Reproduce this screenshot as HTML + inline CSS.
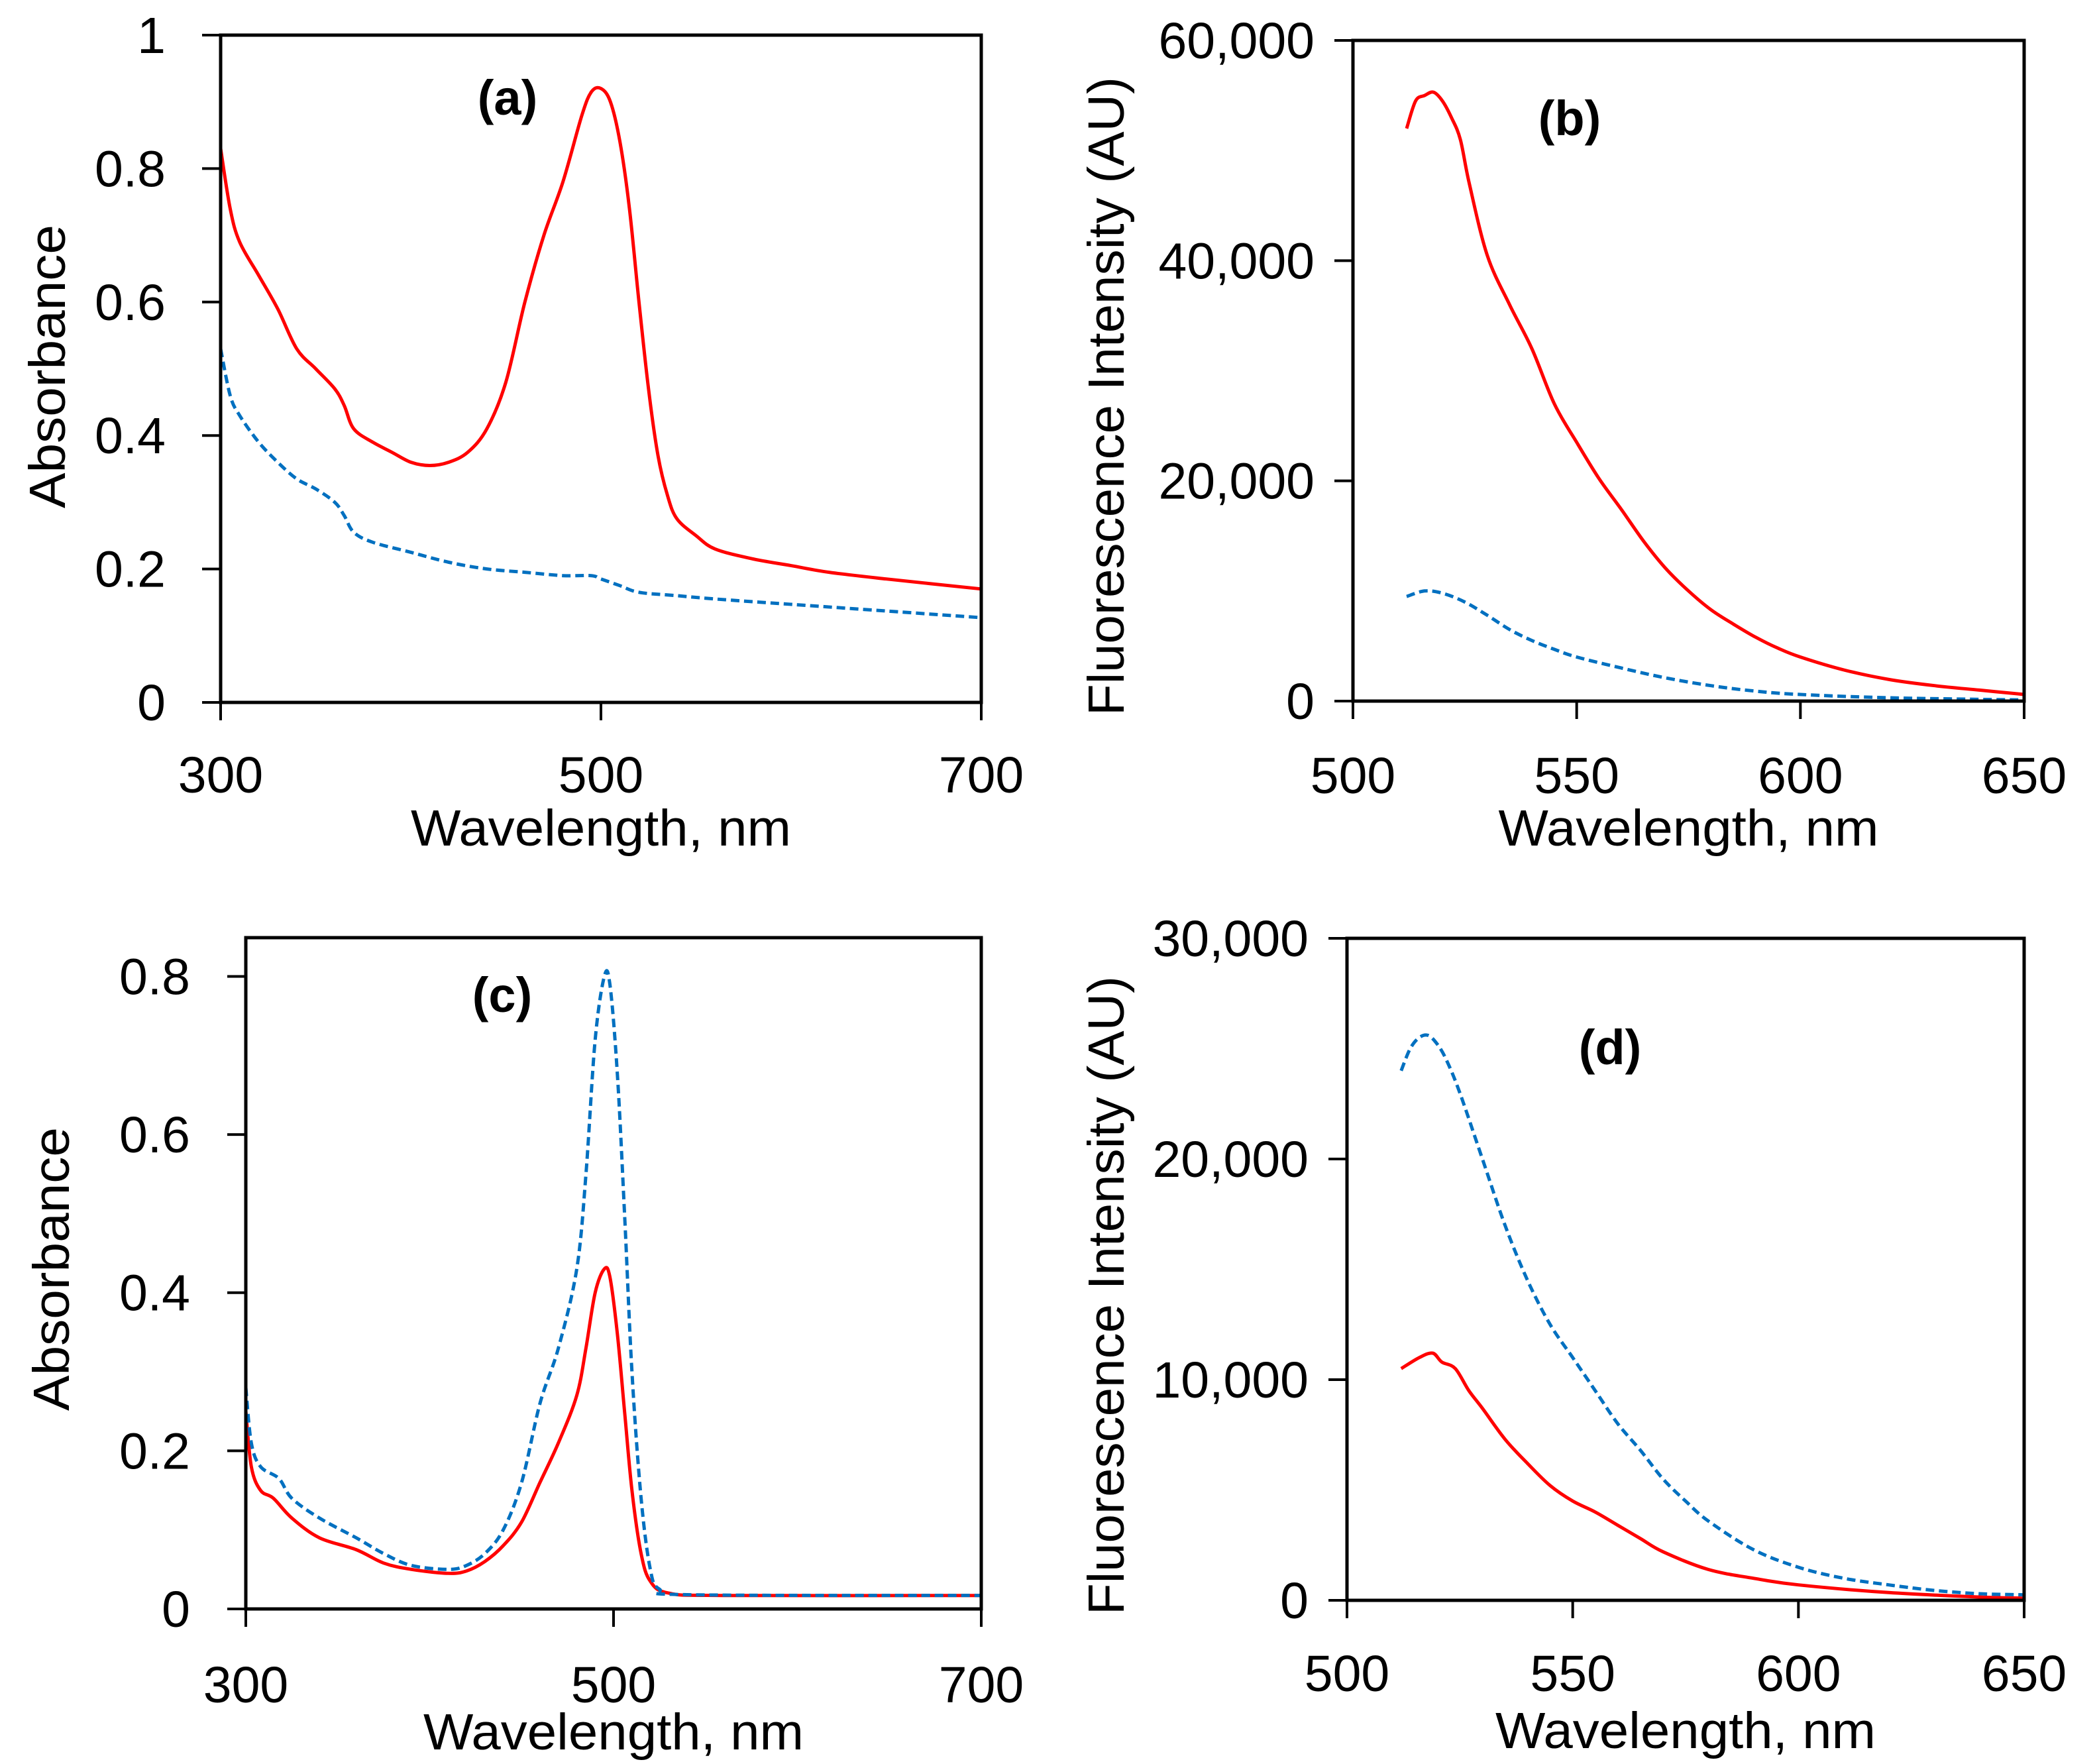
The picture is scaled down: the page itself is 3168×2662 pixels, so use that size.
<!DOCTYPE html>
<html><head><meta charset="utf-8"><style>
html,body{margin:0;padding:0;background:#fff}
svg{display:block}
text{font-family:"Liberation Sans",sans-serif;fill:#000}
</style></head><body>
<svg id="fig" width="3168" height="2662" viewBox="0 0 3168 2662" xmlns="http://www.w3.org/2000/svg"></svg>
<script>
// ---- Data ----
const aRedX=[300,305,310,320,330,340,350,360,365,370,380,390,400,410,420,430,440,450,460,470,480,490,495,500,505,510,515,520,525,530,535,540,550,560,580,600,620,650,700];
const aRedY=[0.83,0.74,0.69,0.64,0.59,0.53,0.5,0.47,0.445,0.41,0.39,0.375,0.36,0.355,0.36,0.375,0.41,0.48,0.6,0.7,0.78,0.88,0.915,0.92,0.9,0.84,0.74,0.6,0.47,0.37,0.31,0.275,0.25,0.23,0.215,0.205,0.195,0.185,0.17];
const aBlueX=[300,305,310,320,330,340,350,360,365,370,380,400,420,440,460,480,495,500,510,520,540,560,600,650,700];
const aBlueY=[0.53,0.46,0.43,0.39,0.36,0.335,0.32,0.3,0.28,0.255,0.24,0.225,0.21,0.2,0.195,0.19,0.19,0.185,0.175,0.165,0.16,0.155,0.147,0.137,0.127];
const bRedX=[512,514,516,518,520,522,524,526,530,535,540,545,550,555,560,565,570,575,580,585,590,595,600,610,620,630,640,650];
const bRedY=[52000,54500,55000,55300,54500,53000,51000,47000,40500,36000,32000,27000,23500,20200,17400,14500,12000,10000,8300,7000,5800,4800,4000,2800,1950,1400,1000,600];
const bBlueX=[512,516,520,525,530,535,540,545,550,560,570,580,590,600,620,650];
const bBlueY=[9500,10000,9800,9000,7800,6500,5500,4700,4000,3000,2100,1400,900,600,300,100];
const cRedX=[300,303,308,315,325,340,360,375,390,410,420,430,440,450,460,470,480,485,490,495,498,502,506,510,515,520,530,560,700];
const cRedY=[0.25,0.18,0.15,0.14,0.115,0.09,0.075,0.058,0.05,0.045,0.048,0.06,0.08,0.11,0.16,0.21,0.27,0.33,0.4,0.43,0.42,0.35,0.25,0.15,0.07,0.035,0.02,0.017,0.017];
const cBlueX=[300,303,308,318,325,340,360,375,390,410,420,430,440,450,460,470,480,485,490,495,498,502,506,510,515,520,525,540,700];
const cBlueY=[0.28,0.21,0.18,0.165,0.14,0.115,0.09,0.07,0.055,0.05,0.055,0.07,0.1,0.16,0.26,0.33,0.43,0.55,0.72,0.8,0.79,0.68,0.5,0.3,0.14,0.05,0.025,0.018,0.017];
const dBlueX=[512,514,516,518,520,522,525,530,535,540,545,550,555,560,565,570,575,580,590,600,610,620,630,640,650];
const dBlueY=[24000,25000,25500,25600,25200,24500,23000,20000,17000,14500,12500,11000,9500,8000,6800,5500,4500,3600,2300,1500,1000,700,450,300,250];
const dRedX=[512,516,519,521,524,527,530,535,540,545,550,555,560,565,570,580,590,600,620,640,650];
const dRedY=[10500,11000,11200,10800,10500,9500,8700,7300,6200,5200,4500,4000,3400,2800,2200,1400,1000,700,350,150,100];
const absXTicks=[300,500,700];
const aYTicks=[0,0.2,0.4,0.6,0.8,1];
const aYLabels=["0","0.2","0.4","0.6","0.8","1"];
const cYTicks=[0,0.2,0.4,0.6,0.8];
const cYLabels=["0","0.2","0.4","0.6","0.8"];
const flXTicks=[500,550,600,650];
const bYTicks=[0,20000,40000,60000];
const bYLabels=["0","20,000","40,000","60,000"];
const dYTicks=[0,10000,20000,30000];
const dYLabels=["0","10,000","20,000","30,000"];

const NS="http://www.w3.org/2000/svg";
const svg=document.getElementById('fig');
function mk(tag,attrs,parent){const e=document.createElementNS(NS,tag);for(const k in attrs)e.setAttribute(k,attrs[k]);(parent||svg).appendChild(e);return e;}

function smoothPath(pts){
  let d='M'+pts[0][0].toFixed(1)+' '+pts[0][1].toFixed(1);
  for(let i=0;i<pts.length-1;i++){
    const p0=pts[i-1]||pts[i],p1=pts[i],p2=pts[i+1],p3=pts[i+2]||p2;
    const c1x=p1[0]+(p2[0]-p0[0])/6,c1y=p1[1]+(p2[1]-p0[1])/6;
    const c2x=p2[0]-(p3[0]-p1[0])/6,c2y=p2[1]-(p3[1]-p1[1])/6;
    d+='C'+c1x.toFixed(1)+' '+c1y.toFixed(1)+' '+c2x.toFixed(1)+' '+c2y.toFixed(1)+' '+p2[0].toFixed(1)+' '+p2[1].toFixed(1);
  }
  return d;
}

function panel(p){
  const g=mk('g',{});
  
  
  const sx=v=>p.L+(v-p.x0)/(p.x1-p.x0)*(p.R-p.L);
  const sy=v=>p.B-(v-p.y0)/(p.y1-p.y0)*(p.B-p.T);
  p.series.forEach(s=>{
    const pts=s.x.map((x,i)=>[sx(x),sy(s.y[i])]);
    const path=mk('path',{d:smoothPath(pts),fill:'none',stroke:s.color,'stroke-width':5,'stroke-linejoin':'round','stroke-dasharray':s.dash?'13 7':'none'},g);
    
    
  });
  const fr=mk('rect',{x:p.L,y:p.T,width:p.R-p.L,height:p.B-p.T,fill:'none',stroke:'#000','stroke-width':5},g);
  
  
  p.yt.forEach((v,i)=>{
    const y=sy(v);
    const t=mk('line',{x1:p.L-28,x2:p.L,y1:y,y2:y,stroke:'#000','stroke-width':4},g);
    
    
    const l=mk('text',{x:p.yLabR,y:y+27,'font-size':77,'text-anchor':'end'},g);
    l.textContent=p.yl[i];
    
    
  });
  p.xt.forEach(v=>{
    const x=sx(v);
    const t=mk('line',{x1:x,x2:x,y1:p.B,y2:p.B+27,stroke:'#000','stroke-width':4},g);
    
    
    const l=mk('text',{x:x,y:p.xLabY,'font-size':77,'text-anchor':'middle'},g);
    l.textContent=String(v);
    
    
  });
  const xt=mk('text',{x:(p.L+p.R)/2,y:p.xTitY,'font-size':77,'text-anchor':'middle',textLength:574,lengthAdjust:'spacingAndGlyphs'},g);
  xt.textContent='Wavelength, nm';
  
  
  const yt=mk('text',{x:0,y:0,'font-size':77,'text-anchor':'middle',textLength:p.ytLen,lengthAdjust:'spacingAndGlyphs',transform:`translate(${p.ytX+27},${p.ytY}) rotate(-90)`},g);
  yt.textContent=p.ytitle;
  
  
  const pl=mk('text',{x:p.lab[0],y:p.lab[1]+26,'font-size':74,'font-weight':'bold','text-anchor':'middle'},g);
  pl.textContent=p.lab[2];
  
  
}

panel({name:'panel-a',L:333,R:1481,T:53,B:1060,x0:300,x1:700,y0:0,y1:1,
  xt:absXTicks,yt:aYTicks,yl:aYLabels,yLabR:250,xLabY:1196,xTitY:1276,
  ytitle:'Absorbance',ytLen:428,ytX:71,ytY:553,lab:[766,147,'(a)'],
  series:[{name:'series-red',x:aRedX,y:aRedY,color:'#ff0000'},{name:'series-blue-dashed',x:aBlueX,y:aBlueY,color:'#0070c0',dash:true}]});
panel({name:'panel-b',L:2042,R:3055,T:61,B:1058,x0:500,x1:650,y0:0,y1:60000,
  xt:flXTicks,yt:bYTicks,yl:bYLabels,yLabR:1984,xLabY:1197,xTitY:1276,
  ytitle:'Fluorescence Intensity (AU)',ytLen:964,ytX:1669,ytY:598,lab:[2369,178,'(b)'],
  series:[{name:'series-red',x:bRedX,y:bRedY,color:'#ff0000'},{name:'series-blue-dashed',x:bBlueX,y:bBlueY,color:'#0070c0',dash:true}]});
panel({name:'panel-c',L:371,R:1481,T:1415,B:2428,x0:300,x1:700,y0:0,y1:0.849,
  xt:absXTicks,yt:cYTicks,yl:cYLabels,yLabR:287,xLabY:2569,xTitY:2640,
  ytitle:'Absorbance',ytLen:428,ytX:77,ytY:1915,lab:[758,1501,'(c)'],
  series:[{name:'series-red',x:cRedX,y:cRedY,color:'#ff0000'},{name:'series-blue-dashed',x:cBlueX,y:cBlueY,color:'#0070c0',dash:true}]});
panel({name:'panel-d',L:2033,R:3055,T:1416,B:2415,x0:500,x1:650,y0:0,y1:30000,
  xt:flXTicks,yt:dYTicks,yl:dYLabels,yLabR:1975,xLabY:2552,xTitY:2638,
  ytitle:'Fluorescence Intensity (AU)',ytLen:964,ytX:1669,ytY:1955,lab:[2430,1580,'(d)'],
  series:[{name:'series-red',x:dRedX,y:dRedY,color:'#ff0000'},{name:'series-blue-dashed',x:dBlueX,y:dBlueY,color:'#0070c0',dash:true}]});
</script>
</body></html>
